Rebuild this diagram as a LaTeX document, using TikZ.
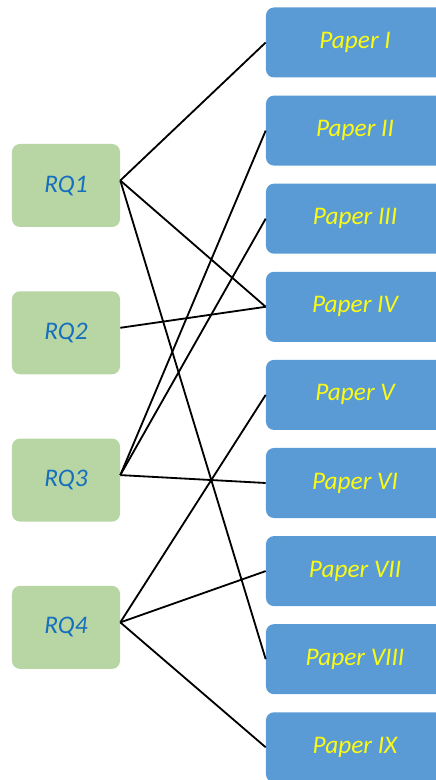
\documentclass[tikz,border=0pt]{standalone}
\usepackage{fontspec}
\setmainfont{Carlito}
\usepackage{tikz}
\usetikzlibrary{positioning}
\definecolor{rqgreen}{RGB}{183,214,163}
\definecolor{rqblue}{RGB}{22,110,190}
\definecolor{paperblue}{RGB}{91,155,213}
\definecolor{paperyellow}{RGB}{250,250,20}
\tikzset{
    % Research question box
    rqbox/.style={rectangle,rounded corners=0.2cm,fill=rqgreen,minimum width=2.7cm,minimum height=2.075cm,
        text=rqblue,font=\fontsize{18}{20}\selectfont\itshape},
    % Paper box
    paperbox/.style={rectangle,rounded corners=0.2cm,fill=paperblue,minimum width=4.45cm,minimum height=1.75cm,
        text=paperyellow,font=\fontsize{18}{20}\selectfont\itshape},
    % Link between question and paper
    link/.style={line width=1.3pt,black}
}

\begin{document}
\begin{tikzpicture}[x=0.025cm,y=0.025cm]
    \useasboundingbox (0,0) rectangle (435,780);

    % Papers on the right
    \foreach \i/\r in {1/I,2/II,3/III,4/IV,5/V,6/VI,7/VII,8/VIII,9/IX}
        \node[paperbox] (p\i) at (355,{780-42.5-88.1*(\i-1)}) {Paper \r};

    % Research questions on the left
    \foreach \i in {1,2,3,4}
        \node[rqbox] (rq\i) at (66,{780-185.5-147.3*(\i-1)}) {RQ\i};

    % Links
    \foreach \q/\p in {1/1,1/4,1/8,2/4,3/2,3/3,3/6,4/5,4/7,4/9}
        \draw[link] ([yshift=0.125cm]rq\q.east) -- (p\p.west);
\end{tikzpicture}
\end{document}
